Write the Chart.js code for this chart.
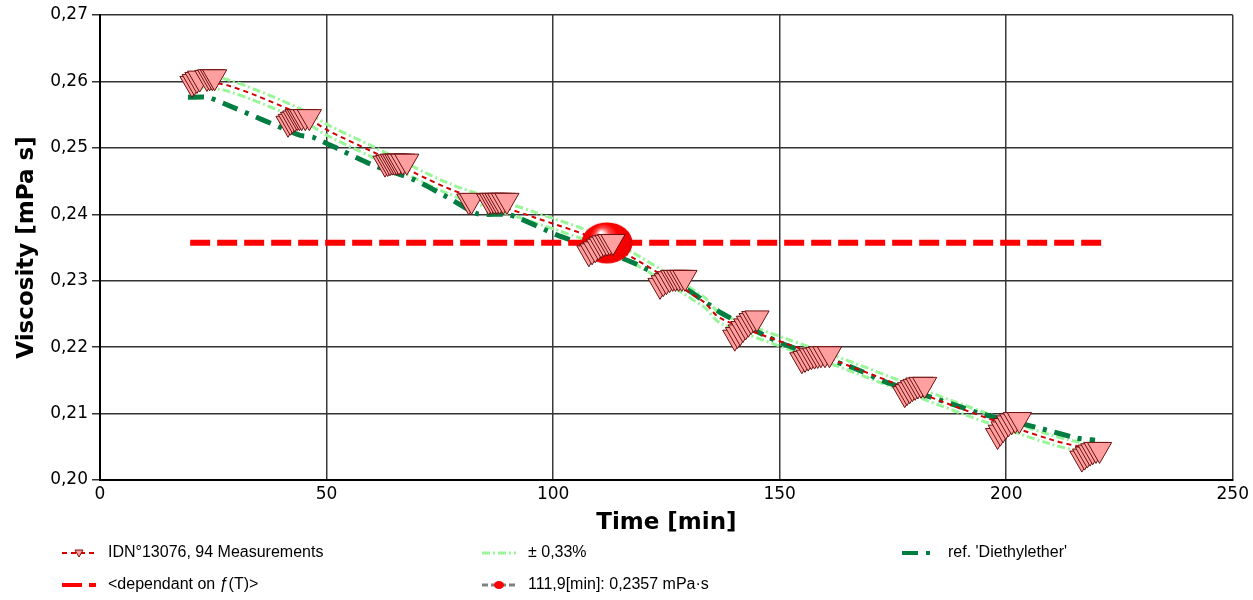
<!DOCTYPE html>
<html>
<head>
<meta charset="utf-8">
<script src="https://cdn.jsdelivr.net/npm/chart.js@4/dist/chart.umd.min.js"></script>
<style>
  body { margin: 0; background: #fff; }
  #wrap { width: 1253px; height: 600px; position: relative; }
</style>
</head>
<body>
<div id="wrap"><canvas id="chart"></canvas></div>
<script>
// Measurements (time in min, viscosity in mPa s), 94 points in 11 groups
const measTime = [
  20.3, 20.8, 21.4, 22.0, 23.6, 24.2, 24.8, 25.3,
  41.5, 42.0, 42.5, 43.0, 43.5, 44.0, 44.5, 45.3, 46.2,
  62.9, 63.5, 64.0, 64.5, 65.0, 65.5, 66.0, 66.8, 67.7,
  81.4, 82.0, 85.8, 86.4, 87.0, 87.6, 88.2, 89.0, 89.8,
  107.9, 108.6, 109.3, 110.0, 110.6, 111.2, 111.9, 112.5, 113.2,
  123.6, 124.3, 125.0, 125.7, 126.4, 127.0, 127.7, 128.4, 129.1,
  140.1, 140.7, 141.3, 141.9, 142.5, 143.1, 143.7, 144.3, 145.0,
  154.9, 155.6, 156.3, 157.0, 157.7, 158.4, 159.1, 160.0, 161.0,
  177.6, 178.1, 178.7, 179.3, 179.9, 180.5, 181.2, 182.0,
  198.1, 198.7, 199.3, 199.9, 200.5, 201.2, 202.0, 202.9,
  216.7, 217.3, 217.9, 218.5, 219.1, 219.8, 220.6
];
const measVisc = [
  0.2597, 0.2600, 0.2603, 0.2605, 0.2606, 0.2607, 0.2607, 0.2607,
  0.2537, 0.2540, 0.2543, 0.2545, 0.2547, 0.2547, 0.2547, 0.2547, 0.2547,
  0.2477, 0.2478, 0.2479, 0.2480, 0.2480, 0.2480, 0.2480, 0.2480, 0.2480,
  0.2420, 0.2421, 0.2420, 0.2421, 0.2421, 0.2421, 0.2421, 0.2421, 0.2421,
  0.2342, 0.2345, 0.2348, 0.2352, 0.2355, 0.2357, 0.2358, 0.2359, 0.2359,
  0.2293, 0.2297, 0.2300, 0.2303, 0.2305, 0.2305, 0.2305, 0.2305, 0.2305,
  0.2215, 0.2219, 0.2223, 0.2228, 0.2232, 0.2236, 0.2240, 0.2243, 0.2244,
  0.2181, 0.2183, 0.2185, 0.2187, 0.2188, 0.2189, 0.2190, 0.2190, 0.2190,
  0.2130, 0.2133, 0.2136, 0.2139, 0.2141, 0.2143, 0.2144, 0.2144,
  0.2067, 0.2072, 0.2077, 0.2082, 0.2086, 0.2089, 0.2091, 0.2091,
  0.2033, 0.2036, 0.2039, 0.2042, 0.2044, 0.2046, 0.2046
];

// Fitted curve through the measurements and its +/- 0,33% band
const fitTime = [20, 28.2, 45, 50.1, 60.2, 77.2, 95.6, 112, 133.1, 136.8, 151.6, 163.3, 189.8, 210.3, 221];
const fitVisc = [0.2600, 0.2594, 0.2548, 0.2527, 0.2494, 0.2438, 0.2396, 0.2355, 0.2269, 0.2244, 0.2205, 0.2177, 0.2108, 0.2060, 0.2043];
const bandUpper = [0.26086, 0.26026, 0.25564, 0.25353, 0.25022, 0.24460, 0.24039, 0.23628, 0.22765, 0.22514, 0.22123, 0.21842, 0.21150, 0.20668, 0.20497];
const bandLower = [0.25914, 0.25854, 0.25396, 0.25187, 0.24858, 0.24300, 0.23881, 0.23472, 0.22615, 0.22366, 0.21977, 0.21698, 0.21010, 0.20532, 0.20363];

// Reference curve 'Diethylether'
const refTime = [19.4, 23.8, 28, 44.1, 47, 53, 60.2, 69, 76.6, 83.2, 90.5, 100.8, 117, 129.5, 137.2, 150.7, 166.2, 173.6, 190.4, 194.2, 207.4, 215.6, 219.6];
const refVisc = [0.2576, 0.2576, 0.2565, 0.2519, 0.2516, 0.2497, 0.2474, 0.2453, 0.2426, 0.2401, 0.2399, 0.2369, 0.2329, 0.2287, 0.2251, 0.2205, 0.2169, 0.2147, 0.2109, 0.2100, 0.2078, 0.2063, 0.2060];

// Horizontal "dependant on f(T)" line and the marked point
const depTime = [19.9, 221.3];
const depVisc = [0.2357, 0.2357];
const markTime = [111.9];
const markVisc = [0.2357];

const pts = (xs, ys) => xs.map((x, i) => ({ x: x, y: ys[i] }));
const comma = (v, d) => v.toFixed(d).replace('.', ',');

// shiny red ellipse for the marked point
const ball = document.createElement('canvas');
ball.width = 52;
ball.height = 42;
const bctx = ball.getContext('2d');
const grad = bctx.createRadialGradient(20, 11, 1, 26, 21, 27);
grad.addColorStop(0, '#ffffff');
grad.addColorStop(0.25, '#ff4a4a');
grad.addColorStop(0.5, '#ff0000');
grad.addColorStop(1, '#e60000');
bctx.fillStyle = grad;
bctx.beginPath();
bctx.ellipse(26, 21, 25.5, 20.5, 0, 0, Math.PI * 2);
bctx.fill();

const legendItems = [
  { index: 3, x: 62, y: 553, text: 'IDN°13076, 94 Measurements', marker: 'tri' },
  { index: 5, x: 482, y: 553, text: '± 0,33%' },
  { index: 4, x: 902, y: 553, text: "ref. 'Diethylether'" },
  { index: 2, x: 62, y: 585, text: '<dependant on ƒ(T)>' },
  { index: 1, x: 482, y: 585, text: '111,9[min]: 0,2357 mPa·s', marker: 'ball', lineColor: '#808080' }
];

const bottomLegend = {
  id: 'bottomLegend',
  afterDraw(chart) {
    const ctx = chart.ctx;
    ctx.save();
    legendItems.forEach(item => {
      const ds = chart.data.datasets[item.index];
      ctx.strokeStyle = item.lineColor || ds.borderColor;
      ctx.lineWidth = item.lineColor ? 3 : Math.min(ds.borderWidth, 4);
      ctx.setLineDash(item.lineColor ? [6, 3] : (ds.borderDash || []));
      ctx.beginPath();
      ctx.moveTo(item.x, item.y);
      ctx.lineTo(item.x + 34, item.y);
      ctx.stroke();
      ctx.setLineDash([]);
      if (item.marker === 'tri') {
        ctx.fillStyle = '#ff9f9f';
        ctx.strokeStyle = '#7a1010';
        ctx.lineWidth = 1;
        ctx.beginPath();
        ctx.moveTo(item.x + 13, item.y - 3);
        ctx.lineTo(item.x + 21, item.y - 3);
        ctx.lineTo(item.x + 17, item.y + 4);
        ctx.closePath();
        ctx.fill();
        ctx.stroke();
      } else if (item.marker === 'ball') {
        ctx.fillStyle = '#ff0000';
        ctx.beginPath();
        ctx.ellipse(item.x + 17, item.y, 5, 4, 0, 0, Math.PI * 2);
        ctx.fill();
      }
      ctx.fillStyle = '#000';
      ctx.font = '16px "Liberation Sans", Arial, sans-serif';
      ctx.textBaseline = 'middle';
      ctx.textAlign = 'left';
      ctx.fillText(item.text, item.x + 46, item.y);
    });
    ctx.restore();
  }
};

new Chart(document.getElementById('chart'), {
  type: 'scatter',
  data: {
    datasets: [
      {
        label: 'IDN°13076, 94 Measurements',
        data: pts(measTime, measVisc),
        pointStyle: 'triangle',
        rotation: 180,
        pointRadius: 14,
        backgroundColor: '#ff9f9f',
        borderColor: '#6e1010',
        borderWidth: 1
      },
      {
        label: '111,9[min]: 0,2357 mPa·s',
        data: pts(markTime, markVisc),
        pointStyle: ball,
        borderColor: '#ff0000',
        backgroundColor: '#ff0000'
      },
      {
        label: '<dependant on ƒ(T)>',
        data: pts(depTime, depVisc),
        showLine: true,
        borderColor: '#ff0000',
        borderWidth: 6,
        borderDash: [20, 7],
        pointRadius: 0
      },
      {
        label: 'fit',
        data: pts(fitTime, fitVisc),
        showLine: true,
        tension: 0.3,
        borderColor: '#d40000',
        borderWidth: 2,
        borderDash: [5, 4],
        pointRadius: 0
      },
      {
        label: "ref. 'Diethylether'",
        data: pts(refTime, refVisc),
        showLine: true,
        tension: 0.2,
        borderColor: '#007d40',
        borderWidth: 5,
        borderDash: [16, 8, 4, 8],
        pointRadius: 0
      },
      {
        label: '± 0,33%',
        data: pts(fitTime, bandUpper),
        showLine: true,
        tension: 0.3,
        borderColor: '#98f598',
        borderWidth: 3,
        borderDash: [8, 3, 2, 3],
        pointRadius: 0
      },
      {
        label: '± 0,33% low',
        data: pts(fitTime, bandLower),
        showLine: true,
        tension: 0.3,
        borderColor: '#98f598',
        borderWidth: 3,
        borderDash: [8, 3, 2, 3],
        pointRadius: 0
      }
    ]
  },
  options: {
    responsive: true,
    maintainAspectRatio: false,
    animation: false,
    layout: { padding: { top: 12, right: 20, bottom: 63, left: 0 } },
    plugins: {
      legend: { display: false },
      tooltip: { enabled: false }
    },
    scales: {
      x: {
        type: 'linear',
        min: 0,
        max: 250,
        afterFit: (scale) => { scale.height = 57; },
        ticks: {
          stepSize: 50,
          padding: 4,
          color: '#000',
          font: { family: '"DejaVu Sans", sans-serif', size: 17 }
        },
        grid: { color: '#3a3a3a', lineWidth: 1.5, drawTicks: false },
        border: { color: '#000', width: 2 },
        title: {
          display: true,
          text: 'Time [min]',
          color: '#000',
          padding: 0,
          font: { family: '"DejaVu Sans", sans-serif', size: 23, weight: 'bold' }
        }
      },
      y: {
        min: 0.20,
        max: 0.27,
        afterFit: (scale) => { scale.width = 100; },
        ticks: {
          stepSize: 0.01,
          padding: 4,
          color: '#000',
          font: { family: '"DejaVu Sans", sans-serif', size: 17 },
          callback: (v) => comma(v, 2)
        },
        grid: { color: '#333', lineWidth: 1.5, tickLength: 8, tickColor: '#333' },
        border: { color: '#000', width: 2 },
        title: {
          display: true,
          text: 'Viscosity [mPa s]',
          color: '#000',
          padding: { top: 13 },
          font: { family: '"DejaVu Sans", sans-serif', size: 23, weight: 'bold' }
        }
      }
    }
  },
  plugins: [bottomLegend]
});
</script>
</body>
</html>
